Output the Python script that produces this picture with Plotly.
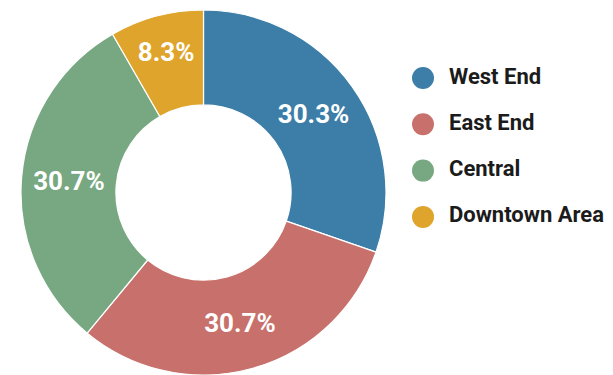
import plotly.graph_objects as go

labels = ["West End", "East End", "Central", "Downtown Area"]
values = [30.3, 30.7, 30.7, 8.3]
colors = ["#3c7ea7", "#c8706b", "#77a881", "#dfa42b"]

W, H = 613, 375
# pie geometry (pixels)
CX, CY, R = 203.5, 192.5, 182.5
HOLE = 0.48

fig = go.Figure()
fig.add_trace(go.Pie(
    labels=labels, values=values, sort=False, direction="clockwise", rotation=0,
    hole=HOLE,
    marker=dict(colors=colors, line=dict(color="white", width=1.2)),
    texttemplate="%{value:.1f}%", textposition="inside",
    insidetextorientation="horizontal",
    textfont=dict(family="Roboto", size=26, color="white", weight="bold"),
    showlegend=False, hoverinfo="label+percent",
    domain=dict(x=[(CX - R) / W, (CX + R) / W], y=[(H - CY - R) / H, (H - CY + R) / H]),
))

# custom legend with circle markers
idx = list(range(len(labels)))
fig.add_trace(go.Scatter(
    x=[0] * len(labels), y=idx, mode="markers",
    marker=dict(size=22, color=colors, line=dict(width=0)),
    showlegend=False, hoverinfo="skip",
))
fig.add_trace(go.Scatter(
    x=[26] * len(labels), y=idx, mode="text", text=labels,
    textposition="middle right",
    textfont=dict(family="Roboto", size=22, color="#1b1b1b", weight="bold"),
    showlegend=False, hoverinfo="skip",
))

LEG_X0, LEG_Y0, LEG_DY = 423, 78, 46.3
fig.update_layout(
    width=W, height=H, margin=dict(l=0, r=0, t=0, b=0),
    paper_bgcolor="white", plot_bgcolor="rgba(0,0,0,0)",
    xaxis=dict(visible=False, range=[-LEG_X0, W - LEG_X0], domain=[0, 1], fixedrange=True),
    yaxis=dict(visible=False, range=[(H - LEG_Y0) / LEG_DY, -LEG_Y0 / LEG_DY], domain=[0, 1], fixedrange=True),
    uniformtext=dict(minsize=26, mode="show"),
)

fig.write_html("out.html")
